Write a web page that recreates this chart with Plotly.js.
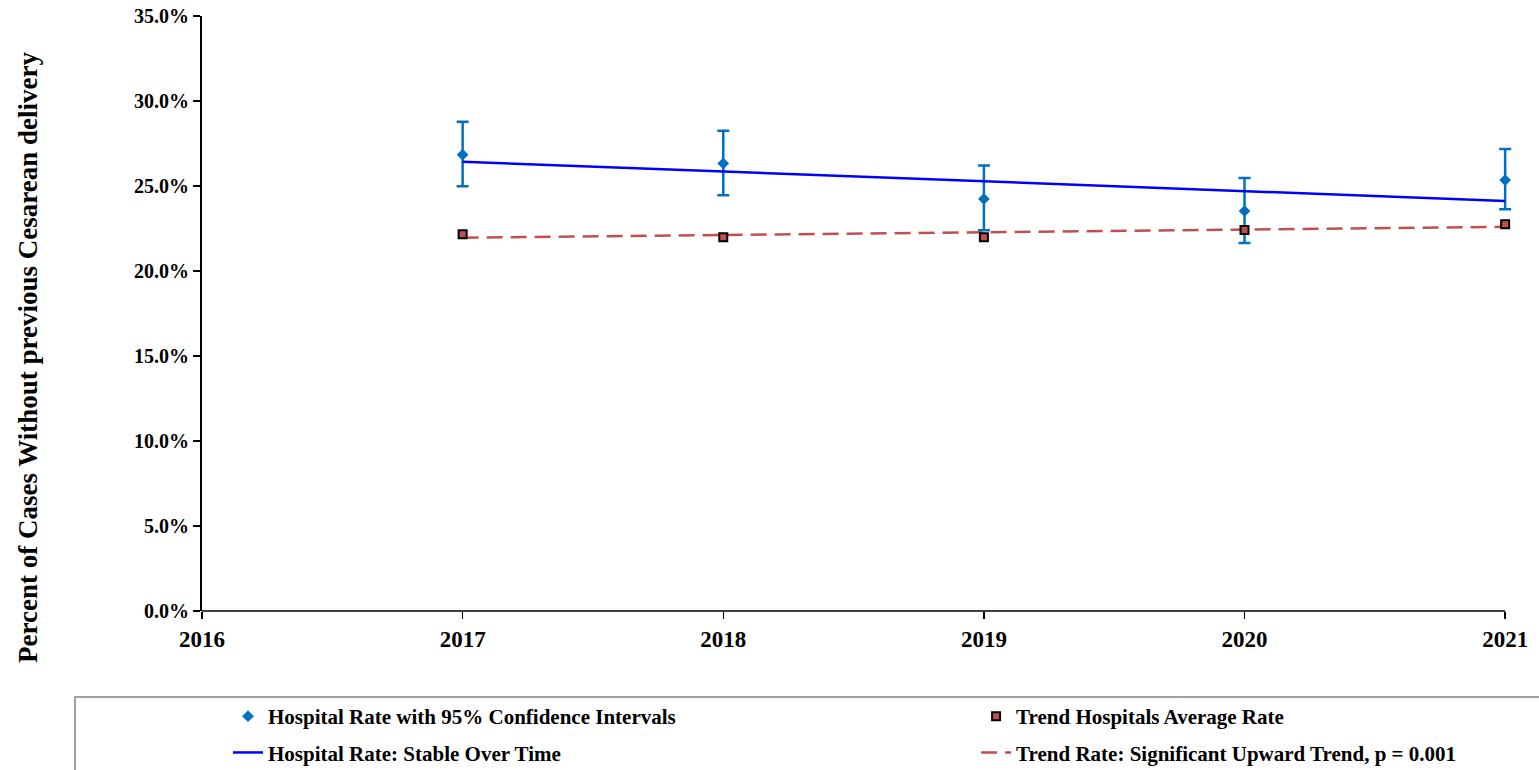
<!DOCTYPE html>
<html>
<head>
<meta charset="utf-8">
<script src="https://cdn.plot.ly/plotly-3.0.1.min.js"></script>
<style>html,body{margin:0;padding:0;background:#fff;}#chart{width:1539px;height:770px;}</style>
</head>
<body>
<div id="chart"></div>
<script>
// Data (percent)
var years = [2017, 2018, 2019, 2020, 2021];
var hospitalRate = [26.84, 26.33, 24.24, 23.53, 25.35];
var ciUpper = [28.78, 28.25, 26.20, 25.47, 27.18];
var ciLower = [24.98, 24.45, 22.39, 21.65, 23.63];
var trendAvgRate = [22.16, 21.98, 21.98, 22.41, 22.75];
var hospitalTrend = [26.43, 25.85, 25.27, 24.70, 24.12];
var trendRateLine = [21.96, 22.12, 22.28, 22.44, 22.60];
var yTickVals = [0, 5, 10, 15, 20, 25, 30, 35];
var xTickVals = [2016, 2017, 2018, 2019, 2020, 2021];
var yTitle = 'Percent of Cases Without previous Cesarean delivery';

var FONT = 'Liberation Serif, Times New Roman, serif';
var errPlus = ciUpper.map(function (u, i) { return u - hospitalRate[i]; });
var errMinus = ciLower.map(function (l, i) { return hospitalRate[i] - l; });

var traces = [
  {
    x: years, y: hospitalRate, type: 'scatter', mode: 'markers', cliponaxis: false,
    name: 'Hospital Rate with 95% Confidence Intervals',
    marker: {symbol: 'diamond', size: 9, color: '#0070C0'},
    error_y: {type: 'data', symmetric: false, array: errPlus, arrayminus: errMinus,
      color: '#0070C0', thickness: 2.5, width: 6},
    legend: 'legend', legendgroup: 'a', legendrank: 1
  },
  {
    x: years, y: hospitalTrend, type: 'scatter', mode: 'lines', cliponaxis: false,
    name: 'Hospital Rate: Stable Over Time',
    line: {color: '#0000FF', width: 2.5},
    legend: 'legend', legendgroup: 'b', legendrank: 2
  },
  {
    x: years, y: trendRateLine, type: 'scatter', mode: 'lines', cliponaxis: false,
    name: 'Trend Rate: Significant Upward Trend, p = 0.001',
    line: {color: '#C0504D', width: 2.5, dash: '16px,8px'},
    legend: 'legend2', legendgroup: 'd', legendrank: 2
  },
  {
    x: years, y: trendAvgRate, type: 'scatter', mode: 'markers', cliponaxis: false,
    name: 'Trend Hospitals Average Rate',
    marker: {symbol: 'square', size: 8, color: '#C0504D', line: {color: '#000000', width: 2}},
    legend: 'legend2', legendgroup: 'c', legendrank: 1
  }
];

// plot area: x 202..1505 for 2016..2021 ; extended range to avoid clipping at the right end
var xMin = 2016, xMax = 2021, xExt = 2021.08;
var pxPerYear = 1303 / (xMax - xMin);
var plotW = pxPerYear * (xExt - xMin);
var rightMargin = 1539 - 202 - plotW;
var H = 595;
function px2x(p) { return (p - 202) / plotW; }
function py2y(p) { return (611 - p) / H; }

var legendFont = {family: FONT, size: 21, weight: 'bold', color: '#000'};

var layout = {
  width: 1539, height: 770,
  paper_bgcolor: '#ffffff', plot_bgcolor: '#ffffff',
  margin: {l: 202, r: rightMargin, t: 16, b: 159, autoexpand: false},
  font: {family: FONT, color: '#000000', size: 16, weight: 'bold'},
  showlegend: true,
  xaxis: {
    range: [xMin, xExt], tickvals: xTickVals, ticktext: xTickVals.map(String),
    showgrid: false, zeroline: false, showline: false,
    ticks: 'outside', ticklen: 7, tickwidth: 1.5, tickcolor: '#000000',
    tickfont: {family: FONT, size: 23, weight: 'bold', color: '#000'}
  },
  yaxis: {
    range: [0, 35], tickvals: yTickVals,
    ticktext: yTickVals.map(function (v) { return v.toFixed(1) + '%'; }),
    showgrid: false, zeroline: false, showline: true, linecolor: '#000000', linewidth: 2,
    ticks: 'outside', ticklen: 7, tickwidth: 2, tickcolor: '#000000',
    tickfont: {family: FONT, size: 20, weight: 'bold', color: '#000'},
    automargin: false
  },
  annotations: [
    {text: yTitle, xref: 'paper', yref: 'paper', x: px2x(28), y: py2y(357),
      xanchor: 'center', yanchor: 'middle', textangle: -90, showarrow: false,
      font: {family: FONT, size: 27, weight: 'bold', color: '#000'}}
  ],
  legend: {
    x: px2x(228), y: py2y(696), xanchor: 'left', yanchor: 'top',
    orientation: 'v', tracegroupgap: 6, bgcolor: 'rgba(0,0,0,0)', font: legendFont
  },
  legend2: {
    x: px2x(976), y: py2y(696), xanchor: 'left', yanchor: 'top',
    orientation: 'v', tracegroupgap: 6, bgcolor: 'rgba(0,0,0,0)', font: legendFont
  },
  shapes: [
    {type: 'line', xref: 'x', yref: 'paper', x0: xMin, x1: xMax, y0: 0, y1: 0,
      line: {color: '#000000', width: 1.5}},
    {type: 'rect', xref: 'paper', yref: 'paper',
      x0: px2x(75), x1: px2x(1560), y0: py2y(697), y1: py2y(790),
      line: {color: '#808080', width: 1.5}, fillcolor: 'rgba(0,0,0,0)'}
  ]
};

Plotly.newPlot('chart', traces, layout, {displayModeBar: false, staticPlot: true});
</script>
</body>
</html>
